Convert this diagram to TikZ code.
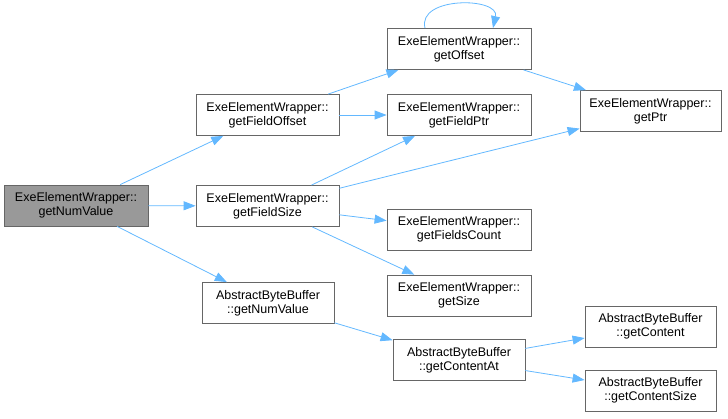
\documentclass[tikz,border=0pt]{standalone}
\usepackage{fontspec}
\setmainfont{Liberation Sans}
\usetikzlibrary{arrows.meta}
\definecolor{edgeblue}{HTML}{63B8FF}
\definecolor{boxline}{HTML}{666666}
\definecolor{rootfill}{HTML}{999999}
\tikzset{
  fn/.style={draw=boxline, line width=0.8pt, fill=white, align=center, inner sep=0pt,
    minimum height=41pt, font=\fontsize{12.5}{14}\selectfont},
  rootnode/.style={fn, fill=rootfill},
  calledge/.style={draw=edgeblue, line width=0.8pt, -{Triangle[length=12pt,width=9pt]}}
}
\begin{document}
\begin{tikzpicture}[x=1pt,y=-1pt]
\useasboundingbox (0,0) rectangle (728,418);
\node[rootnode, minimum width=144pt] (n1) at (76,205.5) {ExeElementWrapper::\\getNumValue};
\node[fn, minimum width=143pt] (fo) at (267.5,115) {ExeElementWrapper::\\getFieldOffset};
\node[fn, minimum width=143pt] (fs) at (267.5,206) {ExeElementWrapper::\\getFieldSize};
\node[fn, minimum width=132pt] (abn) at (268,303) {AbstractByteBuffer\\::getNumValue};
\node[fn, minimum width=144pt] (off) at (459,49) {ExeElementWrapper::\\getOffset};
\node[fn, minimum width=144pt] (fp) at (459,115) {ExeElementWrapper::\\getFieldPtr};
\node[fn, minimum width=144pt] (fc) at (459,229.5) {ExeElementWrapper::\\getFieldsCount};
\node[fn, minimum width=144pt] (sz) at (459,295.5) {ExeElementWrapper::\\getSize};
\node[fn, minimum width=132pt] (ca) at (459,360) {AbstractByteBuffer\\::getContentAt};
\node[fn, minimum width=141pt] (ptr) at (650.5,111) {ExeElementWrapper::\\getPtr};
\node[fn, minimum width=131pt] (ct) at (650.5,326.5) {AbstractByteBuffer\\::getContent};
\node[fn, minimum width=131pt] (cs) at (650.5,390.5) {AbstractByteBuffer\\::getContentSize};

\draw[calledge] (n1) -- (fo);
\draw[calledge] (n1) -- (fs);
\draw[calledge] (n1) -- (abn);
\draw[calledge] (fo) -- (off);
\draw[calledge] (fo) -- (fp);
\draw[calledge] (off) -- (ptr);
\draw[calledge] (fs) -- (fp);
\draw[calledge] (fs) -- (ptr);
\draw[calledge] (fs) -- (fc);
\draw[calledge] (fs) -- (sz);
\draw[calledge] (abn) -- (ca);
\draw[calledge] (ca) -- (ct);
\draw[calledge] (ca) -- (cs);
\coordinate (loopa) at (off.north -| 425,0);
\coordinate (loopb) at (off.north -| 493,0);
\draw[calledge] (loopa) .. controls (417,-4) and (500,-3) .. (loopb);
\end{tikzpicture}
\end{document}
